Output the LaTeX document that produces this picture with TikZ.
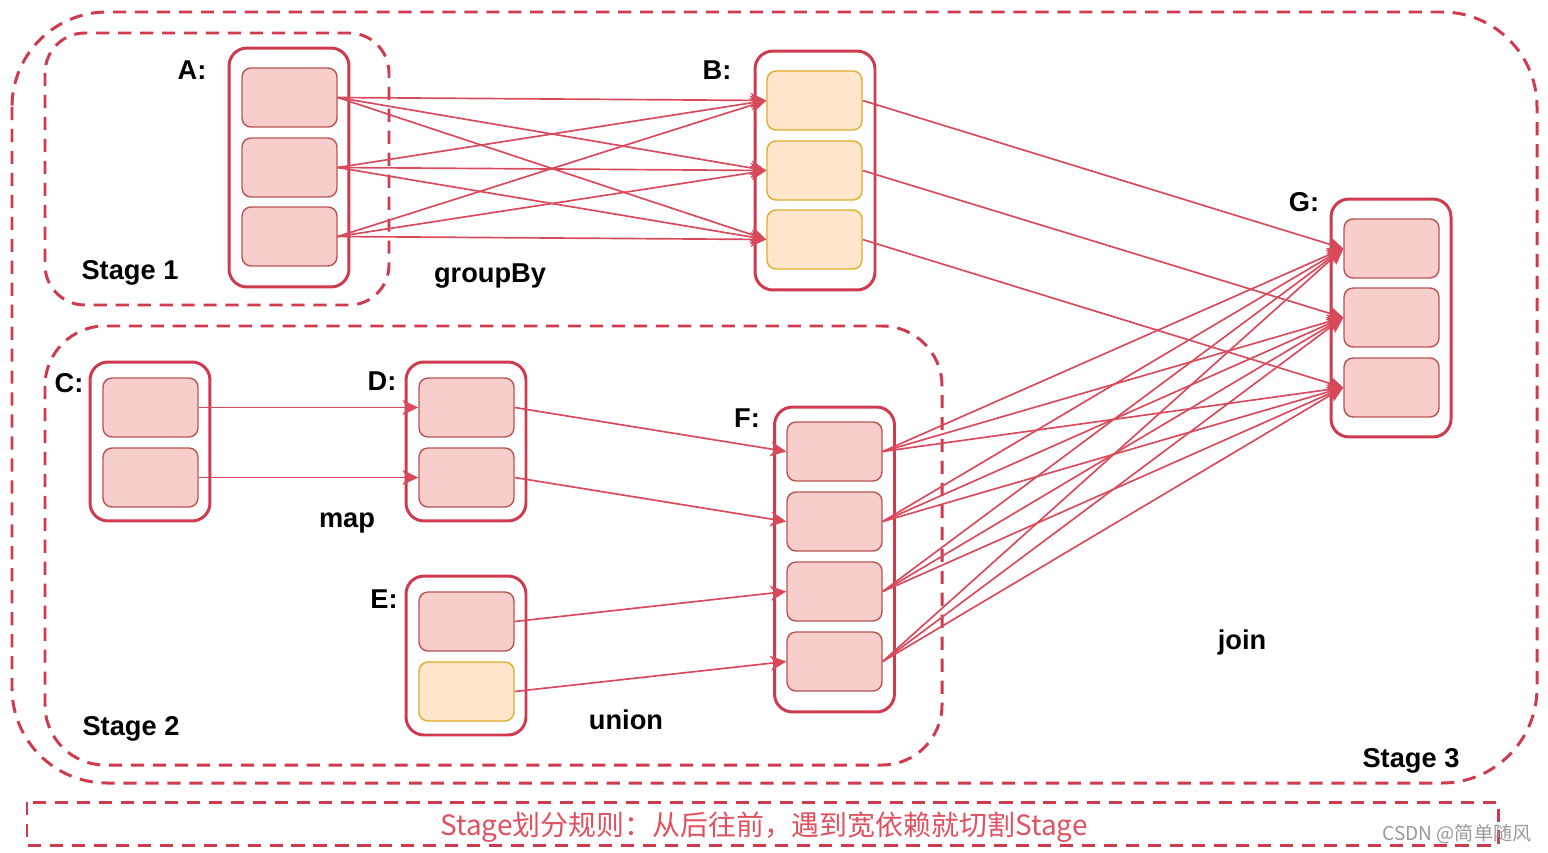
\documentclass[tikz,border=0pt]{standalone}
\usepackage{fontspec}
\setmainfont{Liberation Sans}
\newfontfamily\cjk{Noto Sans CJK SC}
\usetikzlibrary{arrows.meta}
\definecolor{redline}{HTML}{CF3A4F}
\definecolor{edgered}{HTML}{D9495C}
\definecolor{pinkfill}{HTML}{F8CECC}
\definecolor{pinkdraw}{HTML}{B85450}
\definecolor{orfill}{HTML}{FFE6CC}
\definecolor{ordraw}{HTML}{E0AC2A}
\definecolor{rulered}{HTML}{E0505F}
\tikzset{
  part/.style={rectangle, rounded corners=0.18cm, minimum width=1.9cm, minimum height=1.18cm, fill=pinkfill, draw=pinkdraw, line width=0.8pt, inner sep=0pt},
  opart/.style={part, fill=orfill, draw=ordraw},
  holder/.style={rectangle, rounded corners=0.36cm, minimum width=2.4cm, draw=redline, line width=1.7pt, inner sep=0pt},
  stagebox/.style={draw=redline, line width=1.7pt, dash pattern=on 7.5pt off 5pt},
  edge/.style={draw=edgered, line width=0.95pt, -{Stealth[length=9pt,width=8.5pt,inset=2.5pt]}},
  lbl/.style={font=\bfseries\fontsize{15.5}{18}\selectfont, inner sep=0pt},
}
\begin{document}
\begin{tikzpicture}[x=0.02cm, y=-0.02cm]
\useasboundingbox (0,0) rectangle (1548,852);
% stage boxes
\draw[stagebox, rounded corners=1.9cm] (12,12) rectangle (1537,783);
\draw[stagebox, rounded corners=0.8cm] (45,33) rectangle (389,305);
\draw[stagebox, rounded corners=1.2cm] (45,326) rectangle (942,765);
\draw[stagebox] (27,802) rectangle (1498,845);
% containers
\node[holder, minimum height=4.78cm] (A) at (289,167.5) {};
\node[holder, minimum height=4.78cm] (B) at (815,170.5) {};
\node[holder, minimum height=4.76cm] (G) at (1391,318) {};
\node[holder, minimum height=3.18cm] (C) at (150,441.5) {};
\node[holder, minimum height=3.18cm] (D) at (466,441.5) {};
\node[holder, minimum height=3.18cm] (E) at (466,655.5) {};
\node[holder, minimum height=6.1cm] (F) at (834.5,559.5) {};
% partitions
\node[part] (a1) at (289.5,97.5) {};
\node[part] (a2) at (289.5,167.5) {};
\node[part] (a3) at (289.5,236.5) {};
\node[opart] (b1) at (814.5,100.5) {};
\node[opart] (b2) at (814.5,170.5) {};
\node[opart] (b3) at (814.5,239.5) {};
\node[part] (g1) at (1391.5,248.5) {};
\node[part] (g2) at (1391.5,317.5) {};
\node[part] (g3) at (1391.5,387.5) {};
\node[part] (c1) at (150.5,407.5) {};
\node[part] (c2) at (150.5,477.5) {};
\node[part] (d1) at (466.5,407.5) {};
\node[part] (d2) at (466.5,477.5) {};
\node[part] (e1) at (466.5,621.5) {};
\node[opart] (e2) at (466.5,691.5) {};
\node[part] (f1) at (834.5,451.5) {};
\node[part] (f2) at (834.5,521.5) {};
\node[part] (f3) at (834.5,591.5) {};
\node[part] (f4) at (834.5,661.5) {};
% labels
\node[lbl] (lA) at (192,70) {A:};
\node[lbl] (lB) at (717,70) {B:};
\node[lbl] (lG) at (1304,202) {G:};
\node[lbl] (lC) at (69,383) {C:};
\node[lbl] (lD) at (382,381) {D:};
\node[lbl] (lE) at (384,599) {E:};
\node[lbl] (lF) at (747,418) {F:};
\node[lbl] (s1) at (130,273) {Stage 1};
\node[lbl] (s2) at (131,729) {Stage 2};
\node[lbl] (s3) at (1411,761) {Stage 3};
\node[lbl] (t1) at (490,276) {groupBy};
\node[lbl] (t2) at (347,523) {map};
\node[lbl] (t3) at (626,720) {union};
\node[lbl] (t4) at (1242,642) {join};
\node[inner sep=0pt, text=rulered, font=\cjk\fontsize{15.9}{18}\selectfont] (rule) at (764,827) {Stage划分规则：从后往前，遇到宽依赖就切割Stage};
\node[inner sep=0pt, text=black!40, font=\cjk\fontsize{10.9}{13}\selectfont] (wm) at (1457,834) {CSDN @简单随风};
% edges A -> B
\foreach \i in {1,2,3}{\foreach \j in {1,2,3}{\draw[edge] (a\i.east) -- (b\j.west);}}
% B -> G
\foreach \i in {1,2,3}{\draw[edge] (b\i.east) -- (g\i.west);}
% F -> G
\foreach \i in {1,2,3,4}{\foreach \j in {1,2,3}{\draw[edge] (f\i.east) -- (g\j.west);}}
% C -> D, D -> F, E -> F
\draw[edge] (c1.east) -- (d1.west);
\draw[edge] (c2.east) -- (d2.west);
\draw[edge] (d1.east) -- (f1.west);
\draw[edge] (d2.east) -- (f2.west);
\draw[edge] (e1.east) -- (f3.west);
\draw[edge] (e2.east) -- (f4.west);
\end{tikzpicture}
\end{document}
